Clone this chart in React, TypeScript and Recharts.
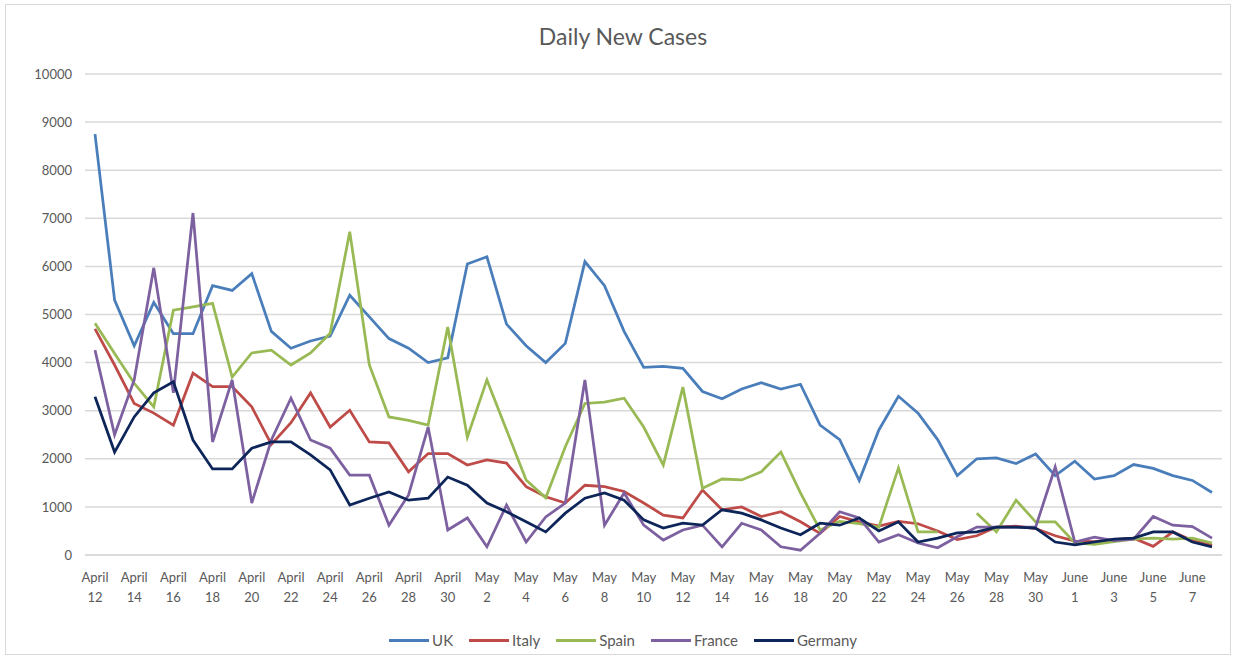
import { LineChart, Line, XAxis, YAxis, CartesianGrid, Legend } from 'recharts'

const dates = [
    'April 12', 'April 13', 'April 14', 'April 15', 'April 16', 'April 17', 'April 18', 'April 19', 'April 20', 'April 21',
    'April 22', 'April 23', 'April 24', 'April 25', 'April 26', 'April 27', 'April 28', 'April 29', 'April 30',
    'May 1', 'May 2', 'May 3', 'May 4', 'May 5', 'May 6', 'May 7', 'May 8', 'May 9', 'May 10',
    'May 11', 'May 12', 'May 13', 'May 14', 'May 15', 'May 16', 'May 17', 'May 18', 'May 19', 'May 20',
    'May 21', 'May 22', 'May 23', 'May 24', 'May 25', 'May 26', 'May 27', 'May 28', 'May 29', 'May 30', 'May 31',
    'June 1', 'June 2', 'June 3', 'June 4', 'June 5', 'June 6', 'June 7', 'June 8',
]

const uk = [
    8750, 5300, 4350, 5250, 4600, 4600, 5600, 5500, 5850, 4650,
    4300, 4450, 4550, 5400, 4950, 4500, 4300, 4000, 4100, 6050,
    6200, 4800, 4350, 4000, 4400, 6100, 5600, 4650, 3900, 3920,
    3880, 3400, 3250, 3450, 3580, 3450, 3550, 2700, 2400, 1550,
    2600, 3300, 2950, 2400, 1650, 2000, 2020, 1900, 2100, 1650,
    1950, 1580, 1650, 1880, 1800, 1650, 1550, 1300,
]
const italy = [
    4700, 3950, 3150, 2950, 2700, 3780, 3500, 3500, 3080, 2300,
    2750, 3370, 2660, 3010, 2350, 2330, 1730, 2110, 2110, 1870,
    1975, 1910, 1420, 1210, 1080, 1450, 1420, 1320, 1080, 830,
    770, 1350, 940, 1000, 800, 900, 690, 450, 800, 690,
    600, 700, 650, 500, 320, 400, 580, 600, 550, 400,
    290, 280, 320, 350, 180, 480, 300, 200,
]
const spain = [
    4820, 4190, 3570, 3080, 5090, 5160, 5230, 3700, 4200, 4260,
    3950, 4200, 4610, 6720, 3950, 2870, 2800, 2700, 4740, 2450,
    3640, 2600, 1560, 1190, 2250, 3150, 3180, 3260, 2660, 1870,
    3490, 1390, 1580, 1560, 1730, 2140, 1290, 520, 700, 650,
    580, 1810, 480, 480, null, 870, 480, 1140, 690, 690,
    250, 220, 280, 330, 350, 330, 350, 250,
]
const france = [
    4260, 2500, 3640, 5970, 3370, 7110, 2350, 3640, 1080, 2390,
    3260, 2390, 2220, 1660, 1660, 620, 1250, 2660, 520, 770,
    170, 1040, 270, 790, 1080, 3640, 620, 1290, 620, 310,
    520, 620, 170, 660, 520, 170, 100, 450, 900, 770,
    270, 420, 250, 150, 380, 580, 580, 580, 580, 1830,
    270, 370, 300, 330, 800, 620, 590, 350,
]
const germany = [
    3290, 2140, 2870, 3370, 3600, 2390, 1790, 1790, 2220, 2350,
    2350, 2080, 1770, 1040, 1180, 1310, 1140, 1180, 1620, 1450,
    1080, 900, 690, 480, 870, 1180, 1290, 1140, 730, 560,
    660, 620, 940, 870, 730, 560, 420, 660, 620, 770,
    500, 690, 270, 350, 460, 480, 580, 580, 560, 270,
    210, 270, 330, 350, 480, 480, 270, 170,
]
const yTicks = [0, 1000, 2000, 3000, 4000, 5000, 6000, 7000, 8000, 9000, 10000]

const series = [
    { key: 'UK', values: uk, color: '#4a7ebb' },
    { key: 'Italy', values: italy, color: '#be4b48' },
    { key: 'Spain', values: spain, color: '#98b954' },
    { key: 'France', values: france, color: '#7d60a0' },
    { key: 'Germany', values: germany, color: '#0d2559' },
]

const data = dates.map((d, i) => {
    const row: Record<string, string | number | null> = { date: d }
    series.forEach(s => {
        row[s.key] = s.values[i]
    })
    return row
})

const font = 'Lato, "Open Sans", sans-serif'
const textColor = '#595959'

const DateTick = (props: any) => {
    const { x, y, payload } = props
    const [month, day] = String(payload.value).split(' ')
    return (
        <text x={x} y={y} textAnchor='middle' fill={textColor} fontSize={13} fontFamily={font}>
            <tspan x={x} dy={19}>{month}</tspan>
            <tspan x={x} dy={20}>{day}</tspan>
        </text>
    )
}

const LegendBox = () => (
    <div style={{ display: 'flex', justifyContent: 'center', fontFamily: font, fontSize: 15, color: textColor, paddingLeft: 40, paddingTop: 20 }}>
        {series.map(s => (
            <div key={s.key} style={{ display: 'flex', alignItems: 'center', marginRight: 16 }}>
                <span style={{ display: 'inline-block', width: 40, height: 3, background: s.color, marginRight: 3 }} />
                <span>{s.key}</span>
            </div>
        ))}
    </div>
)

export default function App() {
    return (
        <div style={{ position: 'absolute', left: 0, top: 0, width: 1236, height: 661, background: '#fff' }}>
            <div style={{ position: 'absolute', left: 5, top: 4, width: 1226, height: 651, border: '1px solid #d9d9d9', boxSizing: 'border-box' }} />
            <div style={{ position: 'absolute', top: 22, left: 0, width: 1246, textAlign: 'center', fontFamily: font, fontSize: 23, color: textColor }}>
                Daily New Cases
            </div>
            <LineChart width={1236} height={661} data={data} margin={{ top: 74, right: 14, bottom: 12, left: 0 }}>
                <CartesianGrid vertical={false} stroke='#d9d9d9' strokeWidth={1.5} />
                <XAxis
                    dataKey='date'
                    interval={1}
                    tick={<DateTick />}
                    tickLine={false}
                    axisLine={{ stroke: '#d9d9d9', strokeWidth: 1.5 }}
                    padding={{ left: 10, right: 10 }}
                    height={56}
                />
                <YAxis
                    domain={[0, 10000]}
                    ticks={yTicks}
                    width={85}
                    tickLine={false}
                    axisLine={false}
                    tickMargin={7}
                    tick={{ fill: textColor, fontSize: 13, fontFamily: font }}
                />
                <Legend verticalAlign='bottom' content={<LegendBox />} height={38} wrapperStyle={{ bottom: 12 }} />
                {series.map(s => (
                    <Line
                        key={s.key}
                        type='linear'
                        dataKey={s.key}
                        stroke={s.color}
                        strokeWidth={2.75}
                        dot={false}
                        isAnimationActive={false}
                    />
                ))}
            </LineChart>
        </div>
    )
}
